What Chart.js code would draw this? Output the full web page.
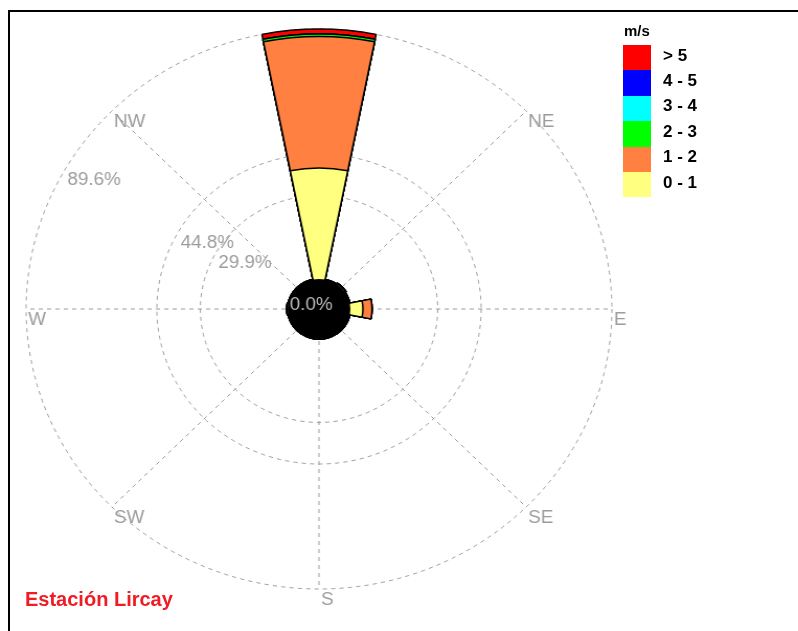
<!DOCTYPE html>
<html>
<head>
<meta charset="utf-8">
<script src="https://cdn.jsdelivr.net/npm/chart.js@4/dist/chart.umd.min.js"></script>
<style>
  html, body { margin: 0; padding: 0; background: #fff; }
  body { position: relative; width: 798px; height: 631px; overflow: hidden; }
  #frame { position: absolute; left: 8px; top: 10px; width: 900px; height: 700px;
           border-top: 2px solid #000; border-left: 2px solid #000; }
  #rose { position: absolute; left: 0; top: 0; transform-origin: 319px 309px; transform: scaleX(1.046); }
  #legend { position: absolute; left: 0; top: 0; font-family: "Liberation Sans", Arial, sans-serif; font-weight: bold; color: #000; }
  #legend .unit { position: absolute; left: 624px; top: 22px; font-size: 15px; }
  #legend .sw { position: absolute; left: 623px; width: 28px; }
  #legend .lb { position: absolute; left: 663px; font-size: 17px; white-space: nowrap; }
  #station { position: absolute; left: 25px; top: 589px; font-family: "Liberation Sans", Arial, sans-serif;
             font-weight: bold; font-size: 20px; line-height: 20px; color: #ee1c25; white-space: nowrap; }
</style>
</head>
<body>
<div id="frame"></div>
<canvas id="rose" width="798" height="631"></canvas>
<div id="legend"><div class="unit">m/s</div></div>
<div id="station">Estación Lircay</div>
<script>
// Wind directions (16 sectors, clockwise from north)
const directions = ['N', 'NNE', 'NE', 'ENE', 'E', 'ESE', 'SE', 'SSE',
                    'S', 'SSW', 'SW', 'WSW', 'W', 'WNW', 'NW', 'NNW'];

// Frequency (%) per speed class and direction
const speed0to1 = [39.8, 0, 0.2, 0, 4.3, 0, 0, 0, 0, 0, 0, 0, 0.1, 0, 0, 0];
const speed1to2 = [47.1, 0, 0.2, 0, 3.1, 0, 0, 0, 0, 0, 0, 0, 0.2, 0, 0, 0];
const speed2to3 = [0.9, 0, 0, 0, 0, 0, 0, 0, 0, 0, 0, 0, 0, 0, 0, 0];
const speed3to4 = [0, 0, 0, 0, 0, 0, 0, 0, 0, 0, 0, 0, 0, 0, 0, 0];
const speed4to5 = [0, 0, 0, 0, 0, 0, 0, 0, 0, 0, 0, 0, 0, 0, 0, 0];
const speedOver5 = [1.8, 0, 0, 0, 0, 0, 0, 0, 0, 0, 0, 0, 0, 0, 0, 0];

// Speed classes, lowest first
const classLabels = ['0 - 1', '1 - 2', '2 - 3', '3 - 4', '4 - 5', '> 5'];
const classColors = ['#ffff80', '#ff8040', '#00ff00', '#00ffff', '#0000ff', '#ff0000'];
const classSeries = [speed0to1, speed1to2, speed2to3, speed3to4, speed4to5, speedOver5];

// Radial rings (%) and calm percentage
const ringValues = [29.9, 44.8, 89.6];
const ringLabels = ['29.9%', '44.8%', '89.6%'];
const calmValue = 0.0;
const calmLabel = '0.0%';
const compassLabels = ['N', 'NE', 'E', 'SE', 'S', 'SW', 'W', 'NW'];

// Stack the classes: each petal layer reaches the running total
const cumulative = [];
classSeries.forEach((series, k) => {
  cumulative.push(series.map((v, i) => v + (k > 0 ? cumulative[k - 1][i] : 0)));
});

const datasets = cumulative.map((values, k) => ({
  label: classLabels[k],
  data: values,
  backgroundColor: classColors[k],
  borderColor: '#000',
  borderWidth: 1.5
}));

const gridColor = '#9c9c9c';
const labelFont = '18px "Liberation Sans", Arial, sans-serif';

function compassPoint(s, deg, r) {
  const a = deg * Math.PI / 180;
  return { x: s.xCenter + r * Math.sin(a), y: s.yCenter - r * Math.cos(a) };
}

const roseDecor = {
  id: 'roseDecor',
  beforeDatasetsDraw(chart) {
    const s = chart.scales.r, ctx = chart.ctx;
    const R = s.getDistanceFromCenterForValue(s.max);
    ctx.save();
    ctx.strokeStyle = gridColor;
    ctx.lineWidth = 1;
    ctx.setLineDash([4, 4]);
    ringValues.forEach(v => {
      ctx.beginPath();
      ctx.arc(s.xCenter, s.yCenter, s.getDistanceFromCenterForValue(v), 0, Math.PI * 2);
      ctx.stroke();
    });
    compassLabels.forEach((lab, i) => {
      const end = compassPoint(s, i * 45, R);
      ctx.beginPath();
      ctx.moveTo(s.xCenter, s.yCenter);
      ctx.lineTo(end.x, end.y);
      ctx.stroke();
    });
    ctx.setLineDash([]);
    ctx.fillStyle = gridColor;
    ctx.font = labelFont;
    ctx.textAlign = 'left';
    ctx.textBaseline = 'alphabetic';
    compassLabels.forEach((lab, i) => {
      const end = compassPoint(s, i * 45, R);
      ctx.fillText(lab, end.x + 2, end.y + 16);
    });
    ctx.restore();
  },
  afterDatasetsDraw(chart) {
    const s = chart.scales.r, ctx = chart.ctx;
    const calmR = s.getDistanceFromCenterForValue(calmValue);
    ctx.save();
    ctx.fillStyle = '#000';
    ctx.beginPath();
    ctx.arc(s.xCenter, s.yCenter, calmR, 0, Math.PI * 2);
    ctx.fill();
    ctx.font = labelFont;
    ctx.textAlign = 'left';
    ctx.textBaseline = 'alphabetic';
    ringValues.forEach((v, i) => {
      const p = compassPoint(s, -60, s.getDistanceFromCenterForValue(v));
      ctx.fillStyle = gridColor;
      ctx.fillText(ringLabels[i], p.x + 2, p.y + 16);
    });
    const c = compassPoint(s, -60, calmR);
    ctx.fillStyle = '#bdbdbd';
    ctx.fillText(calmLabel, c.x - 2, c.y + 16);
    ctx.restore();
  }
};

new Chart(document.getElementById('rose'), {
  type: 'polarArea',
  data: { labels: directions, datasets },
  options: {
    responsive: false,
    devicePixelRatio: 1,
    animation: false,
    layout: { padding: { left: 39, top: 29, right: 199, bottom: 42 } },
    plugins: { legend: { display: false }, tooltip: { enabled: false } },
    scales: {
      r: {
        min: -10.75,
        max: 89.6,
        startAngle: -11.25,
        ticks: { display: false },
        grid: { display: false },
        angleLines: { display: false },
        pointLabels: { display: false }
      }
    }
  },
  plugins: [roseDecor]
});

// Legend: highest class on top
const legend = document.getElementById('legend');
for (let j = 0; j < classLabels.length; j++) {
  const k = classLabels.length - 1 - j;
  const top = 45 + j * 25.4;
  const sw = document.createElement('div');
  sw.className = 'sw';
  sw.style.top = top + 'px';
  sw.style.height = '25.4px';
  sw.style.background = classColors[k];
  legend.appendChild(sw);
  const lb = document.createElement('div');
  lb.className = 'lb';
  lb.style.top = (top - 2.5) + 'px';
  lb.style.lineHeight = '25px';
  lb.textContent = classLabels[k];
  legend.appendChild(lb);
}
</script>
</body>
</html>
